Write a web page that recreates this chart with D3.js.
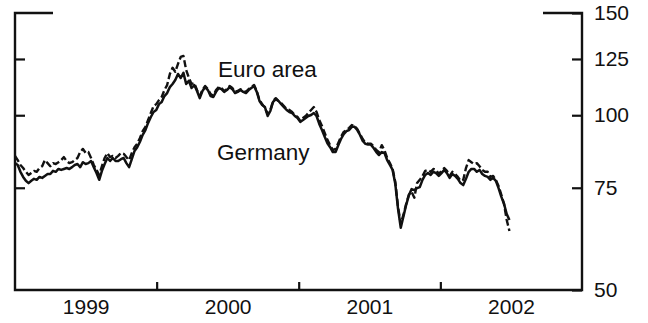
<!DOCTYPE html>
<html>
<head>
<meta charset="utf-8">
<script src="https://cdn.jsdelivr.net/npm/d3@7"></script>
<style>
  body { margin: 0; background: #fff; }
  svg text { font-family: "Liberation Sans", Arial, Helvetica, sans-serif; fill: #111; }
</style>
</head>
<body>
<svg id="chart" width="648" height="323"></svg>
<script>
// Weekly index levels (log scale), first observation on the start date
const startDate = "1999-01-01";

const germany = [82.7, 82.1, 79.9, 78.3, 77.1, 76.4, 77.1, 77.7, 77.4, 78.3, 78.0, 78.6, 79.2, 79.2, 80.2, 79.9,
  80.8, 80.5, 80.8, 81.1, 80.8, 81.4, 82.1, 82.4, 81.4, 83.0, 82.4, 82.7, 83.4, 81.4, 79.5, 77.4, 80.2, 82.4,
  84.4, 83.4, 84.4, 83.4, 83.4, 84.0, 84.4, 82.7, 81.4, 84.0, 86.8, 88.1, 90.0, 92.5, 94.3, 97.0, 99.3, 101.3,
  102.1, 104.5, 105.4, 107.9, 109.2, 111.8, 113.2, 115.0, 117.8, 115.9, 118.3, 113.2, 114.6, 111.4, 112.7, 110.1,
  107.0, 110.1, 111.8, 110.5, 107.9, 107.5, 109.7, 111.4, 110.9, 109.7, 110.5, 111.8, 110.9, 109.2, 109.7, 110.5,
  109.7, 109.2, 110.5, 111.4, 112.3, 109.7, 105.8, 104.1, 103.3, 99.7, 101.7, 105.4, 106.6, 105.8, 104.5, 103.3,
  102.1, 101.3, 100.9, 99.7, 98.9, 97.4, 98.1, 98.9, 99.7, 100.1, 100.9, 99.7, 96.6, 94.3, 91.8, 89.5, 88.1,
  86.4, 86.4, 88.8, 91.0, 92.8, 93.9, 94.3, 95.5, 95.5, 94.3, 92.5, 90.3, 89.3, 89.0, 89.0, 87.8, 86.4, 85.4,
  86.4, 86.1, 83.7, 82.1, 80.5, 76.1, 69.0, 64.0, 67.0, 70.1, 72.8, 74.6, 74.3, 74.9, 75.2, 77.4, 78.9, 79.5,
  78.9, 79.9, 79.5, 78.6, 79.5, 80.5, 79.5, 78.0, 79.2, 78.6, 77.7, 76.4, 75.8, 77.7, 79.9, 80.8, 80.8, 79.9,
  80.5, 79.2, 78.6, 78.3, 77.4, 78.0, 77.1, 74.9, 72.4, 70.4, 67.6, 66.0];

const euroArea = [85.1, 83.7, 82.1, 81.1, 79.9, 78.9, 79.5, 80.2, 79.9, 81.1, 81.7, 83.7, 82.7, 81.7, 82.7, 82.4,
  83.0, 83.7, 84.7, 83.4, 82.7, 83.0, 83.7, 84.4, 86.4, 87.5, 86.1, 86.4, 84.4, 82.1, 80.5, 78.9, 81.7, 84.4,
  86.1, 84.7, 85.1, 84.4, 85.1, 86.1, 85.8, 84.7, 83.7, 86.1, 88.1, 89.3, 91.4, 93.9, 95.5, 98.1, 100.9, 103.7,
  104.5, 106.2, 107.5, 110.5, 112.7, 117.8, 120.7, 118.8, 122.6, 126.0, 126.5, 119.7, 116.0, 113.2, 113.6, 110.5,
  107.9, 110.5, 112.3, 110.9, 108.8, 107.9, 110.5, 111.8, 111.4, 110.1, 110.9, 112.3, 111.4, 109.7, 110.1, 110.9,
  110.1, 109.7, 110.9, 111.8, 112.7, 110.1, 106.2, 104.5, 102.9, 100.5, 102.1, 105.8, 107.0, 105.8, 104.9, 103.7,
  102.5, 102.1, 101.3, 100.1, 99.3, 97.8, 98.9, 99.7, 100.9, 102.1, 103.3, 101.3, 98.1, 95.8, 93.2, 90.7, 88.8,
  87.1, 87.5, 89.6, 91.8, 93.6, 94.3, 95.1, 96.2, 95.8, 94.7, 92.8, 91.0, 89.6, 89.3, 89.3, 88.5, 87.1, 86.4,
  88.8, 87.1, 84.4, 82.7, 80.8, 76.7, 69.5, 65.0, 67.4, 70.4, 73.0, 73.8, 72.1, 76.4, 77.4, 78.6, 80.2, 80.5,
  79.9, 80.8, 80.5, 79.2, 80.2, 81.1, 80.2, 78.6, 79.9, 79.2, 78.3, 77.1, 77.4, 81.1, 83.7, 83.0, 82.4, 82.7,
  81.7, 80.5, 79.9, 79.9, 78.3, 78.6, 77.4, 75.5, 73.0, 70.4, 66.0, 63.2];

const yTicks = [50, 75, 100, 125, 150];
const innerYTicks = [75, 100, 125];
const years = ["1999", "2000", "2001", "2002"];
const seriesNames = ["Euro area", "Germany"];

const svg = d3.select("#chart");
const plot = { left: 15, right: 582, top: 13, bottom: 290 };

const parseDay = d3.timeParse("%Y-%m-%d");
const t0 = parseDay(startDate);
const x = d3.scaleTime()
  .domain([parseDay("1999-01-01"), parseDay("2003-01-01")])
  .range([plot.left, plot.right]);
const y = d3.scaleLog().domain([50, 150]).range([plot.bottom, plot.top]);

const weekDate = i => d3.timeDay.offset(t0, 7 * i);

// frame: left, bottom and right sides, with short stubs along the top
svg.append("path")
  .attr("d", `M${plot.left + 38},${plot.top}H${plot.left}V${plot.bottom}H${plot.right}V${plot.top}H${plot.right - 39}`)
  .attr("fill", "none").attr("stroke", "#111").attr("stroke-width", 2.4);

// right value axis with inward ticks
const rightAxis = svg.append("g")
  .attr("transform", `translate(${plot.right},0)`)
  .call(d3.axisRight(y).tickValues(yTicks).tickFormat(d3.format("d"))
    .tickSizeInner(-10).tickSizeOuter(0).tickPadding(12));
rightAxis.select(".domain").remove();
rightAxis.selectAll("line").attr("stroke", "#111").attr("stroke-width", 2.2);
rightAxis.selectAll("text").attr("font-size", 21).style("fill", "#111");

// left side: tick marks only
const leftAxis = svg.append("g")
  .attr("transform", `translate(${plot.left},0)`)
  .call(d3.axisLeft(y).tickValues(innerYTicks).tickFormat("").tickSizeInner(-10).tickSizeOuter(0));
leftAxis.select(".domain").remove();
leftAxis.selectAll("line").attr("stroke", "#111").attr("stroke-width", 2.2);

// year boundaries as upward ticks
const yearStarts = years.slice(1).map(yr => parseDay(`${yr}-01-01`));
const bottomTicks = svg.append("g")
  .attr("transform", `translate(0,${plot.bottom})`)
  .call(d3.axisBottom(x).tickValues(yearStarts).tickFormat("").tickSizeInner(-8).tickSizeOuter(0));
bottomTicks.select(".domain").remove();
bottomTicks.selectAll("line").attr("stroke", "#111").attr("stroke-width", 2.2);

// year labels centred on each year
const yearMids = years.map(yr => parseDay(`${yr}-07-02`));
const bottomLabels = svg.append("g")
  .attr("transform", `translate(0,${plot.bottom})`)
  .call(d3.axisBottom(x).tickValues(yearMids).tickFormat(d3.timeFormat("%Y")).tickSize(0).tickPadding(9));
bottomLabels.select(".domain").remove();
bottomLabels.selectAll("text").attr("font-size", 21).style("fill", "#111");

// series lines
const line = d3.line()
  .x((d, i) => x(weekDate(i)))
  .y(d => y(d));

svg.append("path")
  .datum(germany)
  .attr("d", line)
  .attr("fill", "none").attr("stroke", "#111")
  .attr("stroke-width", 2.5).attr("stroke-linejoin", "round");

svg.append("path")
  .datum(euroArea)
  .attr("d", line)
  .attr("fill", "none").attr("stroke", "#111")
  .attr("stroke-width", 2.4).attr("stroke-linejoin", "round")
  .attr("stroke-dasharray", "7,3");

// series names
svg.append("text").attr("x", 218).attr("y", 77).attr("font-size", 22.5).text(seriesNames[0]);
svg.append("text").attr("x", 217).attr("y", 160).attr("font-size", 22.5).text(seriesNames[1]);
</script>
</body>
</html>
